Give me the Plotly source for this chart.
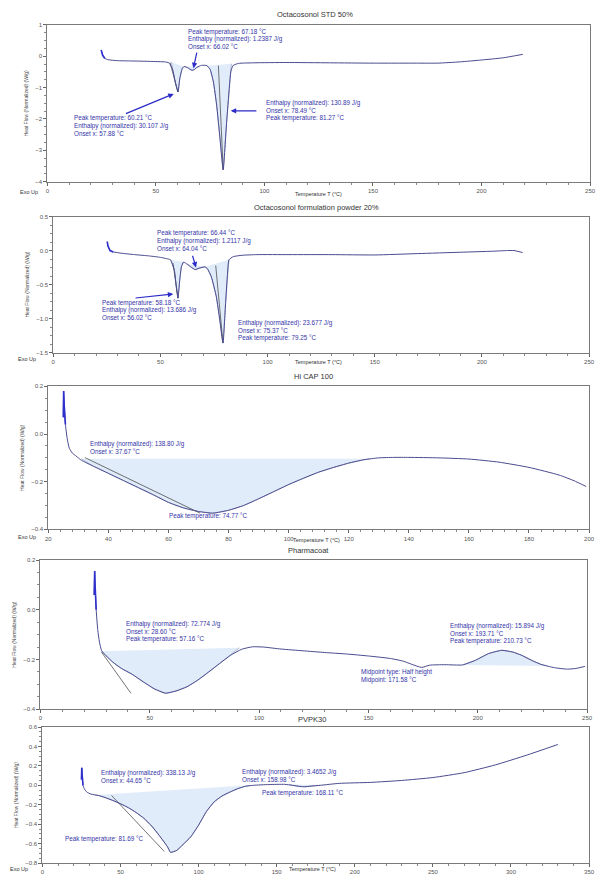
import plotly.graph_objects as go

W, H = 600, 875

# ---------------- Data ----------------
# Panel 1: Octacosonol STD 50%
T1 = [24.8, 25.0, 25.5, 26.5, 28, 32, 38, 45, 50, 54, 56, 57.6, 59.1, 60.2, 61, 62.1, 63, 64.5, 65.8,
      66.7, 67.8, 69, 71, 73.5, 75, 76.5, 78, 79.5, 81.0, 82.6, 83.8, 84.5, 85.5, 88, 95, 110, 130, 150,
      170, 180, 190, 200, 210, 219]
HF1 = [0.2, 0.15, 0.03, -0.07, -0.11, -0.14, -0.15, -0.16, -0.17, -0.18, -0.21, -0.4, -0.88, -1.14, -0.72,
       -0.4, -0.33, -0.36, -0.42, -0.45, -0.42, -0.35, -0.29, -0.3, -0.42, -0.82, -1.56, -2.6, -3.62, -2.09,
       -1.03, -0.5, -0.3, -0.23, -0.21, -0.2, -0.21, -0.22, -0.22, -0.22, -0.18, -0.12, -0.05, 0.06]
BASE1 = [(57.1, -0.19, 62.9, -0.33), (63.0, -0.33, 70.0, -0.33), (73.5, -0.3, 84.8, -0.24)]
TANG1 = [(56.5, -0.2, 60.2, -1.14), (78.8, -0.3, 81.0, -3.62)]

# Panel 2: Octacosonol formulation powder 20%
T2 = [25.2, 25.5, 26.5, 28, 32, 38, 45, 50, 53, 54.7, 56.5, 57.4, 58.2, 59, 59.8, 60.8, 62.5, 64.5, 66.2,
      68, 70.8, 72, 73.8, 76.1, 77.7, 79.2, 80.4, 81.2, 82, 84, 88, 95, 110, 130, 150, 170, 190, 205, 212,
      215, 219]
HF2 = [0.13, 0.07, 0.0, -0.02, -0.04, -0.06, -0.08, -0.1, -0.12, -0.136, -0.29, -0.53, -0.70, -0.44, -0.24,
       -0.17, -0.2, -0.25, -0.28, -0.26, -0.24, -0.27, -0.39, -0.68, -1.02, -1.36, -0.78, -0.39, -0.136, -0.09,
       -0.07, -0.06, -0.06, -0.06, -0.065, -0.045, -0.025, -0.01, 0.0, 0.0, -0.03]
BASE2 = [(54.7, -0.136, 60.8, -0.17), (62.5, -0.2, 70.8, -0.24), (70.8, -0.24, 82.0, -0.136)]
TANG2 = [(55.9, -0.185, 58.2, -0.70), (75.8, -0.22, 79.2, -1.36)]

# Panel 3: Hi CAP 100
T3 = [25.0, 25.1, 25.3, 25.7, 26.3, 27, 28, 29, 30, 31, 35, 40, 45, 50, 55, 60, 65, 70, 74.77, 80, 85, 90,
      95, 100, 105, 110, 115, 120, 125, 130, 135, 140, 150, 160, 170, 180, 190, 195, 199]
HF3 = [0.07, 0.18, 0.12, 0.04, -0.02, -0.06, -0.08, -0.09, -0.1, -0.11, -0.135, -0.165, -0.195, -0.225,
       -0.255, -0.287, -0.31, -0.325, -0.332, -0.32, -0.3, -0.272, -0.242, -0.212, -0.185, -0.16, -0.14,
       -0.122, -0.108, -0.1, -0.098, -0.098, -0.1, -0.105, -0.118, -0.14, -0.172, -0.196, -0.22]
BASE3 = [(31.0, -0.104, 127.0, -0.104)]
TANG3 = [(32.2, -0.099, 70.5, -0.332)]

# Panel 4: Pharmacoat
T4 = [24.6, 24.8, 25.0, 25.5, 26.2, 27, 28, 30, 33, 37, 42, 47, 52, 57.16, 62, 67, 72, 77, 82, 87, 92, 97,
      102, 110, 120, 130, 140, 150, 160, 166, 170, 174.3, 178, 185, 193, 199, 205, 211, 216, 220, 225, 229,
      235, 241, 245, 249]
HF4 = [0.06, 0.156, 0.1, 0.0, -0.08, -0.13, -0.165, -0.185, -0.21, -0.236, -0.26, -0.29, -0.318, -0.336,
       -0.327, -0.31, -0.283, -0.25, -0.216, -0.183, -0.159, -0.149, -0.15, -0.158, -0.165, -0.172, -0.178,
       -0.186, -0.196, -0.207, -0.22, -0.232, -0.223, -0.221, -0.222, -0.203, -0.176, -0.163, -0.17, -0.183,
       -0.205, -0.22, -0.233, -0.239, -0.236, -0.228]
BASE4 = [(28.0, -0.167, 91.0, -0.153), (193.0, -0.222, 232.0, -0.226)]
TANG4 = [(27.9, -0.17, 41.4, -0.336)]

# Panel 5: PVPK30
T5 = [25.0, 25.2, 25.5, 26, 27, 28.5, 31, 36, 40, 45, 50, 55, 60, 65, 70, 75, 80, 82, 86, 90, 95, 100, 105,
      110, 115, 120, 125, 130, 135, 145, 155, 160, 165, 168, 172, 178, 190, 210, 230, 250, 270, 290, 310, 330]
HF5 = [0.06, 0.18, 0.1, 0.0, -0.04, -0.07, -0.09, -0.105, -0.125, -0.155, -0.19, -0.23, -0.28, -0.34,
       -0.42, -0.52, -0.63, -0.69, -0.67, -0.61, -0.53, -0.41, -0.27, -0.17, -0.11, -0.07, -0.035, -0.01,
       0.0, 0.008, 0.01, 0.0, -0.012, -0.015, -0.008, 0.0, 0.02, 0.03, 0.05, 0.08, 0.13, 0.21, 0.31, 0.42]
BASE5 = [(33.6, -0.1, 133.0, 0.0), (158.0, 0.01, 178.0, 0.0)]
TANG5 = [(44.3, -0.105, 78.0, -0.68)]

TITLES = ["Octacosonol STD 50%", "Octacosonol formulation powder 20%", "Hi CAP 100", "Pharmacoat", "PVPK30"]
XRANGES = [[0, 250], [0, 250], [20, 200], [0, 250], [0, 350]]
YRANGES = [[-4, 1], [-1.5, 0.5], [-0.4, 0.2], [-0.4, 0.2], [-0.8, 0.6]]
XDTICK = [50, 50, 20, 50, 50]
YDTICK = [1, 0.5, 0.2, 0.2, 0.2]
YFMT = ["d", ".1f", ".1f", ".1f", ".1f"]

# pixel boxes of plot areas (left, top, right, bottom)
BOXES = [(45, 22, 596, 180), (51, 215, 595, 352), (46, 386, 595, 530), (38, 561, 593, 711), (40, 729, 595, 866)]
TITLE_POS = [(317, 12), (318, 206), (315, 376), (310, 551), (314, 721)]

CURVE = "#4a4a8e"
START = "#2f2fd0"
FILL = "rgba(214,230,247,0.75)"
TXT = "#3434a8"
TFONT = 6.3
STEP_PX = 7.5

series = [(T1, HF1, BASE1, TANG1), (T2, HF2, BASE2, TANG2), (T3, HF3, BASE3, TANG3),
          (T4, HF4, BASE4, TANG4), (T5, HF5, BASE5, TANG5)]

fig = go.Figure()

for i, (T, Y, bases, tangs) in enumerate(series):
    k = i + 1
    xa = "x" if k == 1 else f"x{k}"
    ya = "y" if k == 1 else f"y{k}"
    for (a, ya_, b, yb) in bases:
        px = [a] + [t for t in T if a < t < b] + [b]
        py = [ya_] + [v for t, v in zip(T, Y) if a < t < b] + [yb]
        fig.add_trace(go.Scatter(x=px, y=py, fill="toself", fillcolor=FILL, mode="lines",
                                 line=dict(color="#8a93b8", width=0.6), xaxis=xa, yaxis=ya,
                                 hoverinfo="skip", showlegend=False))
    for (a, ya_, b, yb) in tangs:
        fig.add_trace(go.Scatter(x=[a, b], y=[ya_, yb], mode="lines", line=dict(color="#3a3a3a", width=0.7),
                                 xaxis=xa, yaxis=ya, hoverinfo="skip", showlegend=False))
    fig.add_trace(go.Scatter(x=T, y=Y, mode="lines", line=dict(color=CURVE, width=1.0, shape="spline",
                                                               smoothing=0.5),
                             xaxis=xa, yaxis=ya, showlegend=False))
    fig.add_trace(go.Scatter(x=T[:4], y=Y[:4], mode="lines", line=dict(color=START, width=1.6),
                             xaxis=xa, yaxis=ya, showlegend=False, hoverinfo="skip"))

    l, t, r, b = BOXES[i]
    axis_common = dict(showline=True, mirror=True, linecolor="#7a7a7a", linewidth=1, showgrid=False,
                       zeroline=False, ticks="outside", ticklen=3, tickcolor="#666",
                       tickfont=dict(size=6, color="#555", family="Liberation Sans, Arial"))
    xkey = "xaxis" if k == 1 else f"xaxis{k}"
    ykey = "yaxis" if k == 1 else f"yaxis{k}"
    fig.layout[xkey] = dict(domain=[l / W, r / W], range=XRANGES[i], dtick=XDTICK[i], anchor=ya,
                            minor=dict(ticks="outside", ticklen=2, tickcolor="#888", dtick=XDTICK[i] / 5),
                            **axis_common)
    fig.layout[ykey] = dict(domain=[1 - b / H, 1 - t / H], range=YRANGES[i], dtick=YDTICK[i], anchor=xa,
                            tickformat=YFMT[i],
                            minor=dict(ticks="outside", ticklen=2, tickcolor="#888", dtick=YDTICK[i] / 4),
                            title=dict(text="Heat Flow (Normalized) (W/g)", standoff=6,
                                       font=dict(size=5, color="#444")),
                            **axis_common)
    tx, ty = TITLE_POS[i]
    fig.add_annotation(x=tx / W, y=1 - ty / H, xref="paper", yref="paper", text=TITLES[i], showarrow=False,
                       xanchor="center", yanchor="middle",
                       font=dict(size=7.5, color="#333", family="Liberation Sans, Arial"))

for (ex, ey) in [(26, 190), (24, 358), (24, 538), (16, 872)]:
    fig.add_annotation(x=ex / W, y=1 - ey / H, xref="paper", yref="paper", text="Exo Up", showarrow=False,
                       xanchor="center", yanchor="middle", font=dict(size=5.5, color="#333"))
for (ex, ey) in [(320, 192), (320, 361), (318, 541), (314, 872)]:
    fig.add_annotation(x=ex / W, y=1 - ey / H, xref="paper", yref="paper", text="Temperature T (°C)",
                       showarrow=False, xanchor="center", yanchor="middle", font=dict(size=5.5, color="#333"))


def block(k, x, y0, lines):
    l, t, r, b = BOXES[k - 1]
    yr = YRANGES[k - 1]
    step = STEP_PX * (yr[1] - yr[0]) / (b - t)
    xr = "x" if k == 1 else f"x{k}"
    yrf = "y" if k == 1 else f"y{k}"
    for j, s in enumerate(lines):
        fig.add_annotation(x=x, y=y0 - j * step, xref=xr, yref=yrf, text=s, showarrow=False,
                           xanchor="left", yanchor="middle",
                           font=dict(size=TFONT, color=TXT, family="Liberation Sans, Arial"))


def arrow(k, x, y, ax, ay):
    xr = "x" if k == 1 else f"x{k}"
    yrf = "y" if k == 1 else f"y{k}"
    fig.add_annotation(x=x, y=y, ax=ax, ay=ay, xref=xr, yref=yrf, axref=xr, ayref=yrf, text="",
                       showarrow=True, arrowhead=2, arrowsize=0.9, arrowwidth=1.2, arrowcolor="#2b2bc8")


# Panel 1
block(1, 64, 0.778, ["Peak temperature: 67.18 °C", "Enthalpy (normalized): 1.2387 J/g", "Onset x: 66.02 °C"])
block(1, 11.4, -1.975, ["Peak temperature: 60.21 °C", "Enthalpy (normalized): 30.107 J/g", "Onset x: 57.88 °C"])
block(1, 100, -1.50, ["Enthalpy (normalized): 130.89 J/g", "Onset x: 78.49 °C", "Peak temperature: 81.27 °C"])
arrow(1, 67.3, -0.38, 69, 0.16)
arrow(1, 58.2, -1.2, 35.5, -1.85)
arrow(1, 84.5, -1.74, 97, -1.74)

# Panel 2
block(2, 47.3, 0.252, ["Peak temperature: 66.44 °C", "Enthalpy (normalized): 1.2117 J/g", "Onset x: 64.04 °C"])
block(2, 21.6, -0.770, ["Peak temperature: 58.18 °C", "Enthalpy (normalized): 13.686 J/g", "Onset x: 56.02 °C"])
block(2, 85.5, -1.062, ["Enthalpy (normalized): 23.677 J/g", "Onset x: 75.37 °C", "Peak temperature: 79.25 °C"])
arrow(2, 66.6, -0.25, 64.8, -0.055)
arrow(2, 56.0, -0.64, 37.7, -0.70)

# Panel 3
block(3, 33.1, -0.042, ["Enthalpy (normalized): 138.80 J/g", "Onset x: 37.67 °C"])
block(3, 59.6, -0.345, ["Peak temperature: 74.77 °C"])

# Panel 4
block(4, 38.1, -0.056, ["Enthalpy (normalized): 72.774 J/g", "Onset x: 28.60 °C", "Peak temperature: 57.16 °C"])
block(4, 186.3, -0.064, ["Enthalpy (normalized): 15.894 J/g", "Onset x: 193.71 °C", "Peak temperature: 210.73 °C"])
block(4, 145.8, -0.252, ["Midpoint type: Half height", "Midpoint: 171.58 °C"])

# Panel 5
block(5, 36.5, 0.130, ["Enthalpy (normalized): 338.13 J/g", "Onset x: 44.65 °C"])
block(5, 126.6, 0.140, ["Enthalpy (normalized): 3.4652 J/g", "Onset x: 158.98 °C"])
block(5, 139, -0.074, ["Peak temperature: 168.11 °C"])
block(5, 13.3, -0.548, ["Peak temperature: 81.69 °C"])

fig.update_layout(width=W, height=H, margin=dict(l=0, r=0, t=0, b=0), paper_bgcolor="white",
                  plot_bgcolor="white", showlegend=False,
                  font=dict(family="Liberation Sans, Arial", color="#333"))

fig.write_html("out.html")
